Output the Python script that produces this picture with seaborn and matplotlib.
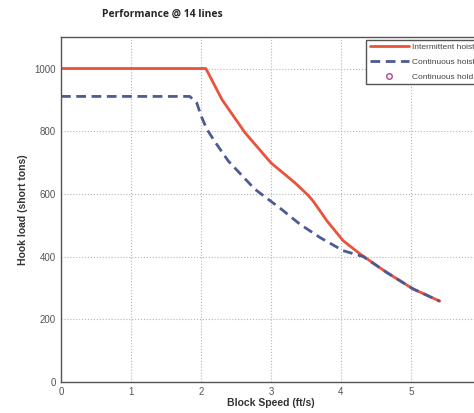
import numpy as np
import matplotlib.pyplot as plt
import pandas as pd
import seaborn as sns

sns.set_style("white")
plt.rcParams['font.family'] = ['Liberation Sans', 'DejaVu Sans']

# Intermittent hoist
speed_int = [0, 2.07, 2.3, 2.63, 3.0, 3.34, 3.52, 3.6, 3.8, 4.03, 4.27, 4.65, 5.03, 5.41]
load_int = [1000, 1000, 901, 795, 699, 636, 598, 578, 514, 451, 409, 350, 297, 258]

# Continuous hoist
speed_cont = [0, 1.84, 1.94, 2.0, 2.08, 2.2, 2.39, 2.77, 3.15, 3.41, 3.7, 4.03, 4.32, 4.65, 5.03, 5.41]
load_cont = [911, 911, 890, 850, 808, 766, 705, 615, 551, 504, 461, 419, 400, 350, 297, 258]

# Continuous hold has no visible points
speed_hold = []
load_hold = []

df_int = pd.DataFrame({"speed": speed_int, "load": load_int})
df_cont = pd.DataFrame({"speed": speed_cont, "load": load_cont})

fig = plt.figure(figsize=(4.74, 4.13), dpi=100)
ax = fig.add_axes([0.1287, 0.075, 0.886, 0.835])

sns.lineplot(data=df_int, x="speed", y="load", ax=ax, color="#e9533c",
             linewidth=2, label="Intermittent hoist", sort=False)
sns.lineplot(data=df_cont, x="speed", y="load", ax=ax, color="#4d5b95",
             linewidth=2, linestyle=(0, (3.5, 2)), label="Continuous hoist", sort=False)
ax.plot(speed_hold, load_hold, linestyle="none", marker="o", markersize=4,
        markerfacecolor="none", markeredgecolor="#b2458c", label="Continuous hold")

ax.set_xlim(0, 6)
ax.set_ylim(0, 1100)
ax.set_xticks(range(0, 6))
ax.set_yticks(range(0, 1001, 200))
ax.grid(True, linestyle=":", color="#b5b5b5", linewidth=0.8)
ax.tick_params(direction="in", labelsize=7, colors="#555555", length=3)
for s in ax.spines.values():
    s.set_color("#555555")
    s.set_linewidth(1)

ax.set_xlabel("Block Speed (ft/s)", fontsize=7.5, fontweight="bold", color="#333333", labelpad=1)
ax.set_ylabel("Hook load (short tons)", fontsize=7.5, fontweight="bold", color="#333333", labelpad=5)

leg = ax.legend(loc="upper right", fontsize=6, frameon=True, fancybox=False,
                borderaxespad=0.3, labelspacing=0.85, handlelength=4.7, handletextpad=0.4,
                edgecolor="#555555", framealpha=1)
for t in leg.get_texts():
    t.set_color("#444444")

fig.text(0.2146, 0.966, "Performance @ 14 lines", fontsize=7.5, fontweight="bold",
         family=["Open Sans", "DejaVu Sans"], ha="left", va="center")

fig.savefig("out.png", dpi=100)
